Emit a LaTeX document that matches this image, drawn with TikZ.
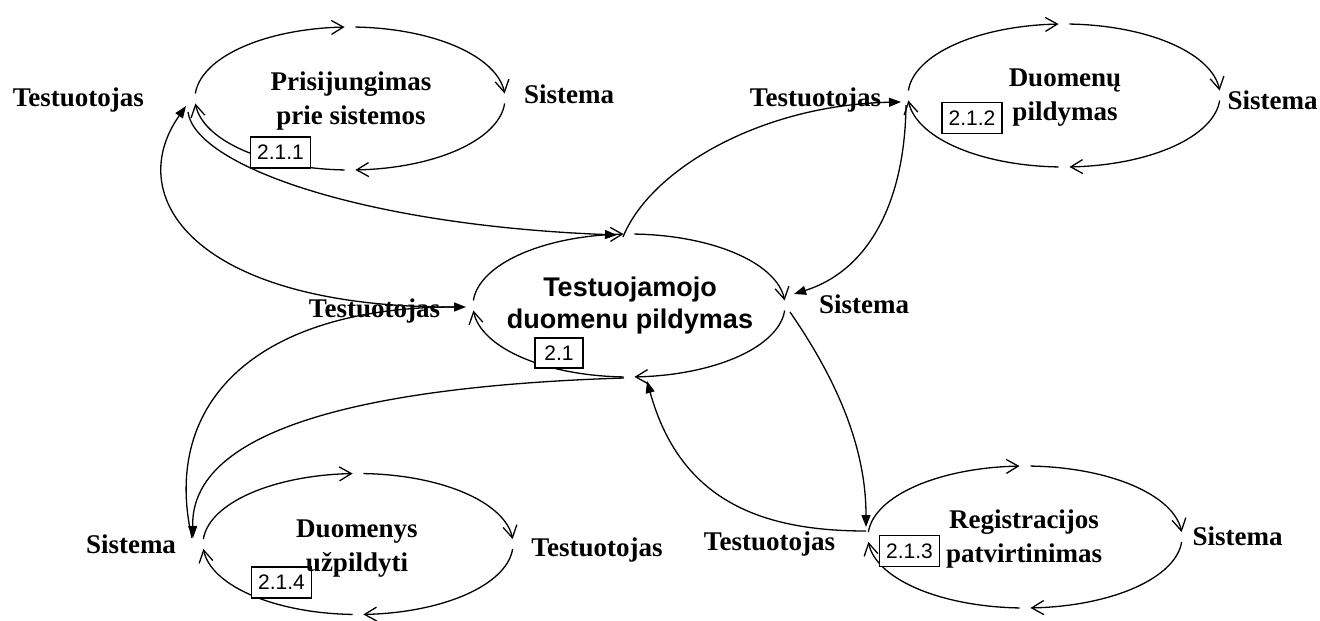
\documentclass[tikz,border=0pt]{standalone}
\usepackage{fontspec}
\setmainfont{Liberation Serif}
\newfontfamily\arialfont{Liberation Sans}
\usetikzlibrary{arrows.meta}

% four open-headed quarter arcs going round an ellipse (cx, cy, rx, ry)
\newcommand\loopellipse[4]{%
  \foreach \a/\b in {184/268,272/356,4/88,92/176}{%
    \draw[cyc] plot[domain=\a:\b,samples=36] ({#1+#3*cos(\x)},{#2+#4*sin(\x)});
  }%
}

\begin{document}
\begin{tikzpicture}[x=1pt,y=-1pt,
  cyc/.style={line width=1.3pt,-{Straight Barb[length=12pt,width=14pt]}},
  flow/.style={line width=1.3pt,-{Triangle[length=12pt,width=9pt]}},
  actor/.style={font=\fontsize{27}{34}\selectfont\bfseries,inner sep=0pt,anchor=base},
  title/.style={font=\fontsize{27}{34}\selectfont\bfseries,align=center,inner sep=0pt},
  maintitle/.style={font=\arialfont\fontsize{27}{32}\selectfont\bfseries,align=center,inner sep=0pt},
  tag/.style={draw,fill=white,line width=1.2pt,font=\arialfont\fontsize{21}{23}\selectfont,
              minimum width=60pt,minimum height=31pt,inner sep=0pt},
]
\useasboundingbox[fill=white] (0,0) rectangle (1320,621);

% ellipses made of four arcs
\loopellipse{350}{98.5}{155}{71.5}
\loopellipse{1064}{95.5}{156}{71.5}
\loopellipse{629}{305.5}{156}{71.5}
\loopellipse{1025}{537}{157}{71}
\loopellipse{358}{544}{155}{70.5}

% number tags
\node[tag] (t211) at (280.5,152.5) {2.1.1};
\node[tag] (t212) at (972,118) {2.1.2};
\node[tag] (t213) at (909.5,551) {2.1.3};
\node[tag] (t214) at (281.5,582.5) {2.1.4};
\node[tag,minimum width=48pt,minimum height=30pt] (t21) at (559,353) {2.1};

% process names
\node[title] (e1name) at (351,100.6) {Prisijungimas\\prie sistemos};
\node[title] (e2name) at (1065,97.8) {Duomenų\\pildymas};
\node[maintitle] (cname) at (630,306) {Testuojamojo\\duomenu pildymas};
\node[title] (e3name) at (1024,539) {Registracijos\\patvirtinimas};
\node[title] (e4name) at (357,548.8) {Duomenys\\užpildyti};

% participants
\node[actor] (e1l) at (78.4,106) {Testuotojas};
\node[actor] (e1r) at (569,103) {Sistema};
\node[actor] (e2l) at (815.5,106) {Testuotojas};
\node[actor] (e2r) at (1272.5,109) {Sistema};
\node[actor] (cl) at (374.5,317) {Testuotojas};
\node[actor] (cr) at (864,313) {Sistema};
\node[actor] (e3l) at (769.5,550) {Testuotojas};
\node[actor] (e3r) at (1237.5,545) {Sistema};
\node[actor] (e4l) at (131,553) {Sistema};
\node[actor] (e4r) at (597,556) {Testuotojas};

% connection points
\coordinate (e1w) at (186,106);
\coordinate (e1wo) at (188,112);
\coordinate (ctn) at (617,235);
\coordinate (ctno) at (623,237);
\coordinate (e2w) at (901,102);
\coordinate (e2wo) at (906,105);
\coordinate (ce) at (794,294);
\coordinate (ceo) at (790,312);
\coordinate (e3w) at (866,527);
\coordinate (e3wo) at (866,531);
\coordinate (cs) at (647,381);
\coordinate (cso) at (624,378);
\coordinate (e4w) at (193,538);
\coordinate (e4wo) at (192,538);
\coordinate (cw) at (466,307);
\coordinate (cwo) at (462,307);

% transitions between the processes
\draw[flow] (cwo) .. controls (200,310) and (120,200) .. (e1w);
\draw[flow] (e1wo) .. controls (195,165) and (360,225) .. (ctn);
\draw[flow] (ctno) .. controls (650,170) and (760,105) .. (e2w);
\draw[flow] (e2wo) .. controls (905,200) and (870,270) .. (ce);
\draw[flow] (ceo) .. controls (830,370) and (866,440) .. (e3w);
\draw[flow] (e3wo) .. controls (760,531) and (680,500) .. (cs);
\draw[flow] (cso) .. controls (400,385) and (190,420) .. (e4w);
\draw[flow] (e4wo) .. controls (160,400) and (260,307) .. (cw);
\end{tikzpicture}
\end{document}
